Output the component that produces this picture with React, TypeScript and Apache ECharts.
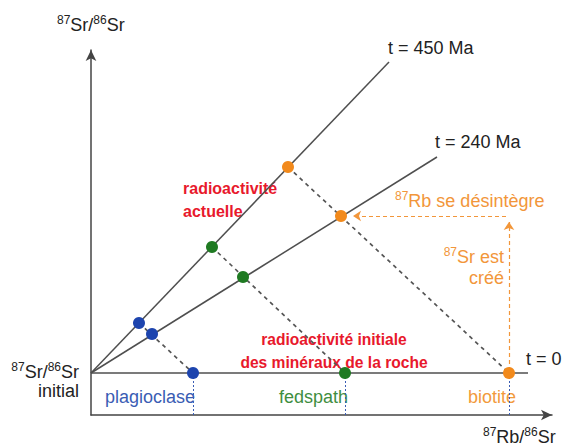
import React, { useEffect, useRef } from "react";
import * as echarts from "echarts";

// ---- data (arbitrary isochron units) ----
const INITIAL_SR = 0.42;
const minerals = ["plagioclase", "fedspath", "biotite"];
const rbInitial = [1.02, 2.54, 4.18]; // t = 0
const rb240 = [0.61, 1.52, 2.5];
const sr240 = [0.81, 1.38, 1.99];
const rb450 = [0.48, 1.21, 1.97];
const sr450 = [0.92, 1.68, 2.48];
const isochron450End = [2.98, 3.53];
const isochron240End = [3.46, 2.58];
const isochron0EndX = 4.37;
const arrowVerticalTopY = 1.93;
const arrowHorizontalEndX = 2.62;
const xMax = 4.61;
const yMax = 3.65;

const COLORS = ["#1d44ae", "#1f7a22", "#f28a1c"];
const TEXT_COLORS = ["#3a5db4", "#3f8e3f", "#f29a3c"];
const FONT = "'Liberation Sans', Arial, Helvetica, sans-serif";
const RED = "#e8192c";
const ORANGE = "#f2963a";
const DARK = "#222";

export default function App() {
  const ref = useRef<HTMLDivElement>(null);
  useEffect(() => {
    if (!ref.current) return;
    const chart = echarts.init(ref.current, undefined, { renderer: "svg" });

    const axisCommon = {
      type: "value" as const,
      axisLine: {
        show: true,
        onZero: false,
        symbol: ["none", "arrow"],
        symbolSize: [8, 11],
        lineStyle: { color: "#444", width: 1.5 },
      },
      axisTick: { show: false },
      axisLabel: { show: false },
      splitLine: { show: false },
    };

    const lineStyleGray = { color: "#4f4f4f", width: 1.5 };

    const scatterSeries = minerals.map((m, i) => ({
      type: "scatter",
      name: m,
      symbolSize: 12,
      z: 10,
      itemStyle: { color: COLORS[i], opacity: 1 },
      data: [
        [rb450[i], sr450[i]],
        [rb240[i], sr240[i]],
        [rbInitial[i], INITIAL_SR],
      ],
    }));

    const decayLines = minerals.map((_, i) => ({
      coords: [
        [rb450[i], sr450[i]],
        [rbInitial[i], INITIAL_SR],
      ],
    }));

    const verticalTicks = minerals.map((_, i) => ({
      coords: [
        [rbInitial[i], INITIAL_SR],
        [rbInitial[i], 0],
      ],
    }));

    const sup = (size: number, color: string) => ({
      fontSize: size,
      fontFamily: FONT,
      fill: color,
      verticalAlign: "top",
      lineHeight: 22,
    });
    const norm = (size: number, color: string) => ({
      fontSize: size,
      fontFamily: FONT,
      fill: color,
      lineHeight: 22,
    });

    const richText = (
      text: string,
      x: number,
      y: number,
      color: string,
      align: string = "left"
    ) => ({
      type: "text",
      x,
      y,
      style: {
        text,
        align,
        verticalAlign: "middle",
        rich: { s: sup(12, color), n: norm(18, color) },
      },
    });

    const plain = (
      text: string,
      x: number,
      y: number,
      color: string,
      align = "left",
      size = 18,
      weight = "normal"
    ) => ({
      type: "text",
      x,
      y,
      style: {
        text,
        align,
        verticalAlign: "middle",
        fill: color,
        fontSize: size,
        fontWeight: weight,
        fontFamily: FONT,
      },
    });

    chart.setOption({
      animation: false,
      grid: { left: 91, right: 12, top: 50, bottom: 31, containLabel: false },
      xAxis: { ...axisCommon, min: 0, max: xMax },
      yAxis: { ...axisCommon, min: 0, max: yMax },
      series: [
        {
          type: "line",
          name: "t = 450 Ma",
          symbol: "none",
          lineStyle: lineStyleGray,
          data: [[0, INITIAL_SR], isochron450End],
        },
        {
          type: "line",
          name: "t = 240 Ma",
          symbol: "none",
          lineStyle: lineStyleGray,
          data: [[0, INITIAL_SR], isochron240End],
        },
        {
          type: "line",
          name: "t = 0",
          symbol: "none",
          lineStyle: lineStyleGray,
          data: [
            [0, INITIAL_SR],
            [isochron0EndX, INITIAL_SR],
          ],
        },
        {
          type: "lines",
          coordinateSystem: "cartesian2d",
          lineStyle: { color: "#555", width: 1.7, type: [4, 4], opacity: 1 },
          data: decayLines,
        },
        {
          type: "lines",
          coordinateSystem: "cartesian2d",
          lineStyle: { color: "#3a5db4", width: 1, type: [2, 2], opacity: 1 },
          data: verticalTicks,
        },
        {
          type: "lines",
          coordinateSystem: "cartesian2d",
          symbol: ["none", "arrow"],
          symbolSize: 8,
          lineStyle: { color: ORANGE, width: 1.2, type: [4, 3], opacity: 1 },
          data: [
            {
              coords: [
                [rbInitial[2], INITIAL_SR + 0.02],
                [rbInitial[2], arrowVerticalTopY],
              ],
            },
            {
              coords: [
                [rbInitial[2] - 0.03, sr240[2]],
                [arrowHorizontalEndX, sr240[2]],
              ],
            },
          ],
        },
        ...scatterSeries,
      ],
      graphic: [
        richText("{s|87}{n|Sr/}{s|86}{n|Sr}", 57, 25, DARK),
        richText("{s|87}{n|Sr/}{s|86}{n|Sr}", 79, 372, DARK, "right"),
        plain("initial", 79, 391, DARK, "right"),
        richText("{s|87}{n|Rb/}{s|86}{n|Sr}", 483, 437, DARK),
        plain("t = 450 Ma", 388, 48, DARK),
        plain("t = 240 Ma", 435, 142, DARK),
        plain("t = 0", 526, 359, DARK),
        plain("radioactivité", 183, 188, RED, "left", 16, "bold"),
        plain("actuelle", 183, 211, RED, "left", 16, "bold"),
        plain("radioactivité initiale", 334, 339, RED, "center", 15.6, "bold"),
        plain("des minéraux de la roche", 334, 362, RED, "center", 15.6, "bold"),
        plain(minerals[0], 105, 397, TEXT_COLORS[0]),
        plain(minerals[1], 279, 397, TEXT_COLORS[1]),
        plain(minerals[2], 468, 397, TEXT_COLORS[2]),
        richText("{s|87}{n|Rb se désintègre}", 395, 201, ORANGE),
        richText("{s|87}{n|Sr est}", 504, 257, ORANGE, "right"),
        plain("créé", 504, 278, ORANGE, "right"),
      ],
    });
    return () => chart.dispose();
  }, []);
  return <div ref={ref} style={{ width: 564, height: 446, position: "absolute", left: 0, top: 0, background: "#fff" }} />;
}
